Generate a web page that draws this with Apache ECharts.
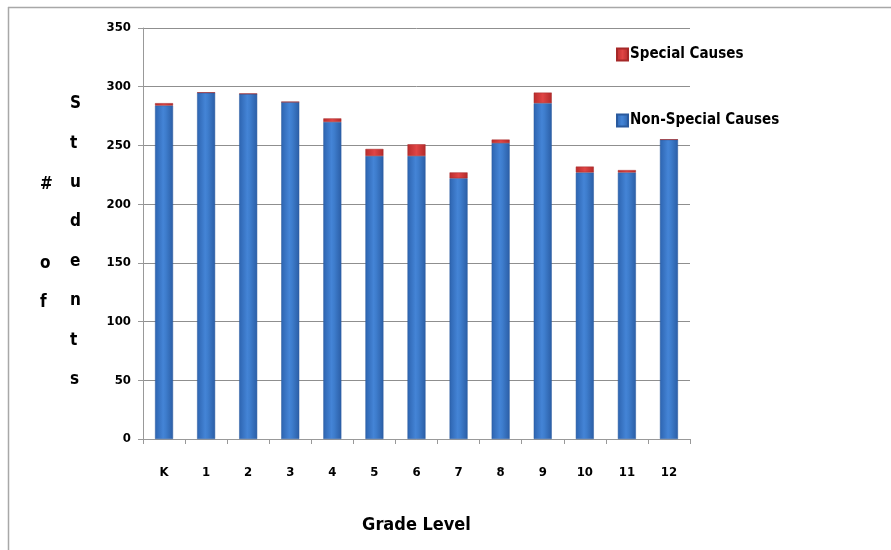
<!DOCTYPE html>
<html>
<head>
<meta charset="utf-8">
<script src="https://cdn.jsdelivr.net/npm/echarts@6/dist/echarts.min.js"></script>
<style>
  html, body { margin: 0; padding: 0; background: #fff; }
  #chart { width: 891px; height: 550px; }
</style>
</head>
<body>
<div id="chart"></div>
<script>
// Enrollment by grade, split into special-cause and non-special-cause students
const grades = ['K', '1', '2', '3', '4', '5', '6', '7', '8', '9', '10', '11', '12'];
const nonSpecial = [284, 295, 294, 287, 270, 241, 241, 222, 252, 286, 227, 227, 255];
const special = [2, 0, 0, 0, 3, 6, 10, 5, 3, 9, 5, 2, 0];
const yTicks = { min: 0, max: 350, interval: 50 };

const FONT = "'Liberation Sans Narrow', 'DejaVu Sans Condensed', 'Noto Sans', sans-serif";

const blueFill = new echarts.graphic.LinearGradient(0, 0, 1, 0, [
  { offset: 0, color: '#2d64b0' },
  { offset: 0.45, color: '#4484d6' },
  { offset: 0.6, color: '#3e7dcd' },
  { offset: 1, color: '#2b5ea6' }
]);
const redFill = new echarts.graphic.LinearGradient(0, 0, 1, 0, [
  { offset: 0, color: '#b92c2c' },
  { offset: 0.5, color: '#e04545' },
  { offset: 1, color: '#b32a2a' }
]);

const chart = echarts.init(document.getElementById('chart'), null, { renderer: 'canvas' });

chart.setOption({
  animation: false,
  backgroundColor: '#fff',
  grid: { left: 143, right: 201, top: 28, bottom: 111 },
  legend: {
    left: 611,
    top: 42,
    orient: 'vertical',
    itemGap: 51,
    itemWidth: 11,
    itemHeight: 12,
    icon: 'rect',
    data: ['Special Causes', 'Non-Special Causes'],
    textStyle: { fontFamily: FONT, fontSize: 15, fontWeight: 'bold', color: '#000', padding: [0, 0, 0, -3] }
  },
  xAxis: {
    type: 'category',
    data: grades,
    name: 'Grade Level',
    nameLocation: 'middle',
    nameGap: 77,
    nameTextStyle: { fontFamily: FONT, fontSize: 18, fontWeight: 'bold', color: '#000', padding: [0, 0, 0, 0] },
    axisLine: { lineStyle: { color: '#999', width: 1 } },
    axisTick: { show: true, alignWithLabel: false, length: 5, lineStyle: { color: '#999' } },
    axisLabel: { margin: 27, fontFamily: FONT, fontSize: 13, fontWeight: 'bold', color: '#000' }
  },
  yAxis: {
    type: 'value',
    min: yTicks.min,
    max: yTicks.max,
    interval: yTicks.interval,
    axisLine: { show: true, lineStyle: { color: '#999', width: 1 } },
    axisTick: { show: true, length: 5, lineStyle: { color: '#999' } },
    axisLabel: { margin: 12, fontFamily: FONT, fontSize: 13, fontWeight: 'bold', color: '#000' },
    splitLine: { lineStyle: { color: '#8f8f8f', width: 1 } }
  },
  series: [
    {
      name: 'Non-Special Causes',
      type: 'bar',
      stack: 'students',
      barWidth: 18,
      data: nonSpecial,
      itemStyle: { color: blueFill, borderColor: '#2a5a9e', borderWidth: 0.5 }
    },
    {
      name: 'Special Causes',
      type: 'bar',
      stack: 'students',
      barWidth: 18,
      data: special,
      itemStyle: { color: redFill, borderColor: '#a52828', borderWidth: 0.5 }
    }
  ],
  graphic: [
    // outer frame (top and left edges)
    { type: 'line', shape: { x1: 8, y1: 7.5, x2: 891, y2: 7.5 }, style: { stroke: '#a8a8a8', lineWidth: 1.5 } },
    { type: 'line', shape: { x1: 8.5, y1: 7, x2: 8.5, y2: 550 }, style: { stroke: '#a8a8a8', lineWidth: 1.5 } },
    // stacked-letter y-axis title
    {
      type: 'text', left: 40, top: 165,
      style: { text: '#\n\no\nf', fontFamily: FONT, fontSize: 17, fontWeight: 'bold', fill: '#000', lineHeight: 39.4, align: 'center' }
    },
    {
      type: 'text', left: 70, top: 84,
      style: { text: 'S\nt\nu\nd\ne\nn\nt\ns', fontFamily: FONT, fontSize: 17, fontWeight: 'bold', fill: '#000', lineHeight: 39.4, align: 'center' }
    }
  ]
});
</script>
</body>
</html>
